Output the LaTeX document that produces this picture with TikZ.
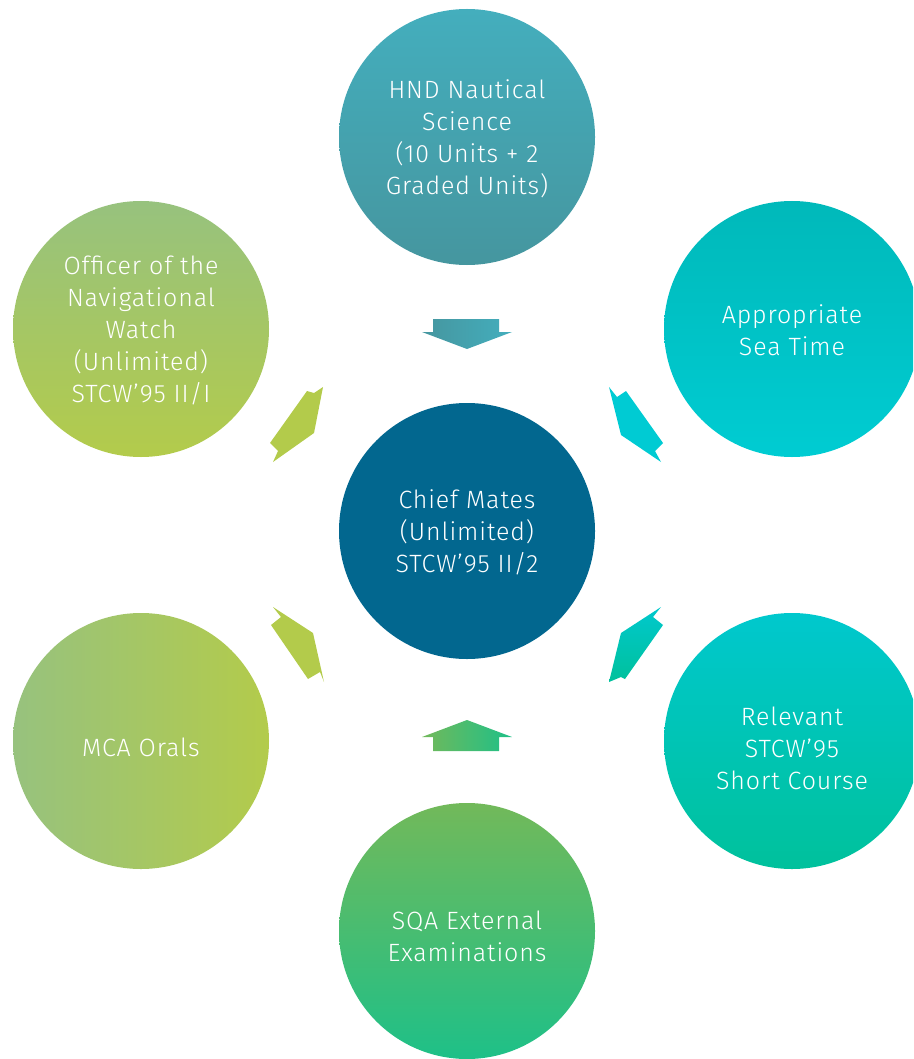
\documentclass[tikz,border=0pt]{standalone}
\usepackage{fontspec}
\setmainfont{Fira Sans Light}[LetterSpace=3.5]
\usetikzlibrary{shapes.geometric}
\definecolor{ulTop}{HTML}{97C27E}
\definecolor{ulBot}{HTML}{B3CB4B}
\definecolor{urTop}{HTML}{00B9BA}
\definecolor{urBot}{HTML}{00CCD2}
\definecolor{lrTop}{HTML}{00C8CD}
\definecolor{lrBot}{HTML}{00C19C}
\definecolor{btTop}{HTML}{72B95A}
\definecolor{btBot}{HTML}{1EC088}
\definecolor{tpTop}{HTML}{44AEBD}
\definecolor{tpBot}{HTML}{45969F}
\definecolor{ctr}{HTML}{02678F}
\definecolor{arUL}{HTML}{B3CB4B}
\definecolor{arUR}{HTML}{00CBD3}
\tikzset{
  disc/.style={circle, minimum size=256pt, inner sep=0pt, draw=none},
  lbl/.style={text=white, align=center, font=\fontsize{25}{32}\selectfont, inner sep=0pt},
}
\begin{document}
\begin{tikzpicture}[x=1pt,y=-1pt]
\useasboundingbox (0,0) rectangle (913,1059);
\clip (0,0) rectangle (913,1059);
% circles
\node[disc, top color=tpTop, bottom color=tpBot] (top) at (467,137) {};
\node[disc, top color=ulTop, bottom color=ulBot] (ul) at (141,329) {};
\node[disc, top color=urTop, bottom color=urBot] (ur) at (792,329) {};
\node[disc, fill=ctr] (ctr) at (467,531) {};
\node[disc, left color=ulTop, right color=ulBot] (ll) at (141,741) {};
\node[disc, top color=lrTop, bottom color=lrBot] (lr) at (792,741) {};
\node[disc, top color=btTop, bottom color=btBot] (bt) at (467,931) {};
% labels
\node[lbl] (ttop) at (467,139) {HND Nautical\\Science\\(10 Units + 2\\Graded Units)};
\node[lbl] (tul) at (141,330) {Officer of the\\Navigational\\Watch\\(Unlimited)\\STCW’95 II/I};
\node[lbl] (tur) at (792,330) {Appropriate\\Sea Time};
\node[lbl] (tctr) at (467,532) {Chief Mates\\(Unlimited)\\STCW’95 II/2};
\node[lbl] (tll) at (141,747) {MCA Orals};
\node[lbl] (tlr) at (792,748) {Relevant\\STCW’95\\Short Course};
\node[lbl] (tbt) at (467,936) {SQA External\\Examinations};
% block arrows
\shade[left color=tpBot, right color=tpTop]
  (433,319) -- (499,319) -- (499,332) -- (512,332) -- (467,349) -- (422,332) -- (433,332) -- cycle;
\shade[left color=btTop, right color=btBot]
  (433,751) -- (499,751) -- (499,737) -- (512,737) -- (467,720) -- (422,737) -- (433,737) -- cycle;
\fill[arUL] (307,391) -- (314,393) -- (323,387) -- (314,433) -- (273,462) -- (278,451) -- (270,443) -- cycle;
\fill[arUR] (609,387) -- (617,397) -- (626,391) -- (663,443) -- (655,451) -- (661,462) -- (621,435) -- cycle;
\fill[arUL] (273,607) -- (281,617) -- (271,625) -- (308,679) -- (320,672) -- (324,682) -- (313,633) -- cycle;
\shade[top color=lrTop, bottom color=lrBot]
  (661,607) -- (653,617) -- (663,625) -- (625,679) -- (621,677) -- (609,682) -- (621,633) -- cycle;
\end{tikzpicture}
\end{document}
